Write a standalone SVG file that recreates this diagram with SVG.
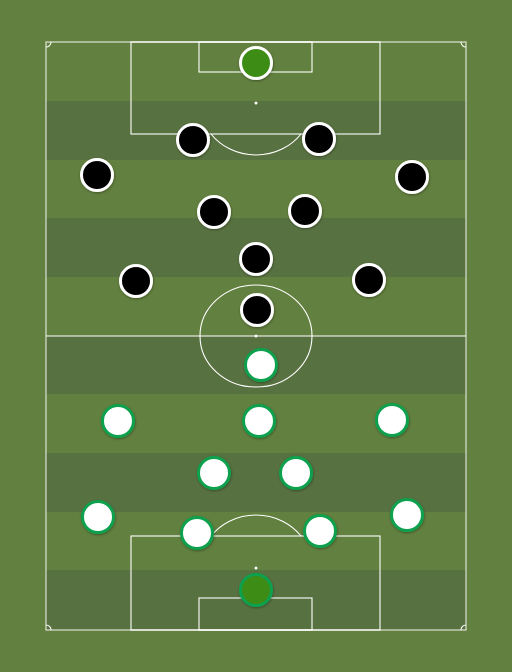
<svg xmlns="http://www.w3.org/2000/svg" width="512" height="672" viewBox="0 0 512 672">
<defs>
<style>
.ln{fill:none;stroke:#ffffff;stroke-width:1.1}
.st{fill:#587141}
.away circle{fill:#000000;stroke:#ffffff;stroke-width:3}
.home circle{fill:#ffffff;stroke:#0da14e;stroke-width:3}
.gk1 circle{fill:#3e8c16;stroke:#ffffff;stroke-width:3}
.gk2 circle{fill:#3e8c16;stroke:#0da14e;stroke-width:3}
</style>
<filter id="sh" x="-30%" y="-30%" width="160%" height="160%">
<feDropShadow dx="0.5" dy="1" stdDeviation="1" flood-color="#000" flood-opacity="0.35"/>
</filter>
</defs>
<rect width="512" height="672" fill="#62803f"/>
<g id="stripes">
<rect class="st" x="46" y="101" width="420" height="59"/>
<rect class="st" x="46" y="218" width="420" height="59"/>
<rect class="st" x="46" y="336" width="420" height="58"/>
<rect class="st" x="46" y="453" width="420" height="59"/>
<rect class="st" x="46" y="570" width="420" height="60"/>
</g>
<g id="pitch">
<rect class="ln" x="46" y="42" width="420" height="588" stroke-opacity="0.85"/>
<line class="ln" x1="46" y1="336" x2="466" y2="336"/>
<ellipse class="ln" cx="256" cy="336" rx="56" ry="51"/>
<circle cx="256" cy="336" r="1.5" fill="#fff"/>
<rect class="ln" x="131" y="42" width="249" height="92"/>
<rect class="ln" x="199" y="42" width="113" height="30"/>
<circle cx="256" cy="103" r="1.5" fill="#fff"/>
<path class="ln" d="M211,134 A56,52 0 0 0 301,134"/>
<rect class="ln" x="131" y="536" width="249" height="94"/>
<rect class="ln" x="199" y="598" width="113" height="32"/>
<circle cx="256" cy="568" r="1.5" fill="#fff"/>
<path class="ln" d="M211,536 A56,52 0 0 1 301,536"/>
<path class="ln" d="M46,47 A5,5 0 0 0 51,42"/>
<path class="ln" d="M461,42 A5,5 0 0 0 466,47"/>
<path class="ln" d="M46,625 A5,5 0 0 1 51,630"/>
<path class="ln" d="M461,630 A5,5 0 0 1 466,625"/>
</g>
<g id="connectors"></g>
<g filter="url(#sh)">
<g id="away-gk" class="gk1"><circle cx="256" cy="63" r="15.5"/></g>
<g id="away" class="away">
<g id="a2"><circle cx="193" cy="140" r="15.5"/></g>
<g id="a3"><circle cx="319" cy="139" r="15.5"/></g>
<g id="a4"><circle cx="97" cy="175" r="15.5"/></g>
<g id="a5"><circle cx="412" cy="177" r="15.5"/></g>
<g id="a6"><circle cx="214" cy="212" r="15.5"/></g>
<g id="a7"><circle cx="305" cy="211" r="15.5"/></g>
<g id="a8"><circle cx="256" cy="259" r="15.5"/></g>
<g id="a9"><circle cx="136" cy="281" r="15.5"/></g>
<g id="a10"><circle cx="369" cy="280" r="15.5"/></g>
<g id="a11"><circle cx="257" cy="310" r="15.5"/></g>
</g>
<g id="home" class="home">
<g id="h11"><circle cx="261" cy="365" r="15.5"/></g>
<g id="h9"><circle cx="118" cy="421" r="15.5"/></g>
<g id="h10"><circle cx="259" cy="421" r="15.5"/></g>
<g id="h8"><circle cx="392" cy="420" r="15.5"/></g>
<g id="h6"><circle cx="214" cy="473" r="15.5"/></g>
<g id="h7"><circle cx="296" cy="473" r="15.5"/></g>
<g id="h2"><circle cx="98" cy="517" r="15.5"/></g>
<g id="h3"><circle cx="197" cy="533" r="15.5"/></g>
<g id="h4"><circle cx="320" cy="531" r="15.5"/></g>
<g id="h5"><circle cx="407" cy="515" r="15.5"/></g>
</g>
<g id="home-gk" class="gk2"><circle cx="256" cy="590" r="15.5"/></g>
</g>
</svg>
